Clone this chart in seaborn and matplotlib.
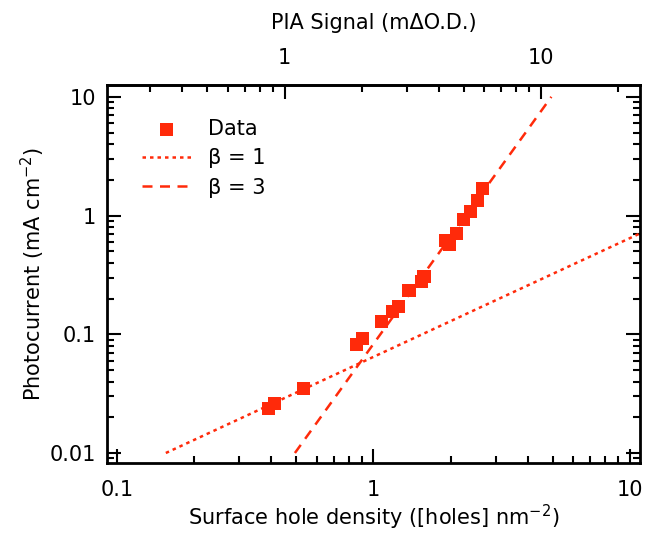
import seaborn as sns
import matplotlib.pyplot as plt
from matplotlib.ticker import FuncFormatter, FixedLocator, LogLocator, NullFormatter

# surface hole density (holes nm^-2) vs photocurrent (mA cm^-2)
density = [0.389, 0.410, 0.532, 0.860, 0.908, 1.076, 1.188, 1.249, 1.375,
           1.541, 1.574, 1.917, 1.975, 2.11, 2.24, 2.39, 2.55, 2.67]
current = [0.0238, 0.0263, 0.0347, 0.0814, 0.0927, 0.128, 0.155, 0.171, 0.232,
           0.278, 0.306, 0.612, 0.572, 0.711, 0.92, 1.08, 1.34, 1.70]

# power-law guide lines (end points)
beta1_x = [0.155, 11.5]
beta1_y = [0.01, 0.742]
beta3_x = [0.494, 4.94]
beta3_y = [0.01, 10.0]

# PIA signal = density / scale
pia_scale = 0.45
pia_ticks = [1, 10]

red = "#ff2a0a"

sns.set_style("ticks")
plt.rcParams["font.family"] = ["DejaVu Sans"]
plt.rcParams["text.color"] = "black"
plt.rcParams["axes.labelcolor"] = "black"

fig = plt.figure(figsize=(6.47, 5.34), dpi=100)
ax = fig.add_axes([0.1654, 0.133, 0.8236, 0.708])

sns.lineplot(x=beta1_x, y=beta1_y, ax=ax, color=red, lw=1.8,
             dashes=False, label="β = 1")
sns.lineplot(x=beta3_x, y=beta3_y, ax=ax, color=red, lw=1.8,
             dashes=False, label="β = 3")
ax.lines[0].set_dashes((1.4, 1.6))
ax.lines[1].set_dashes((4, 3))
sns.scatterplot(x=density, y=current, ax=ax, color=red, marker="s", s=90,
                edgecolor="none", label="Data", zorder=5)

ax.set_xscale("log")
ax.set_yscale("log")
ax.set_xlim(0.0914, 10.94)
ax.set_ylim(0.00824, 12.6)

fmt = FuncFormatter(lambda v, p: "{:g}".format(v))
ax.xaxis.set_major_formatter(fmt)
ax.yaxis.set_major_formatter(fmt)
ax.xaxis.set_minor_formatter(NullFormatter())
ax.yaxis.set_minor_formatter(NullFormatter())

ax.tick_params(which="both", direction="in", top=False, right=True,
               width=1.5, labelsize=15, colors="black")
ax.tick_params(which="major", length=10, pad=8)
ax.tick_params(axis="x", which="major", pad=12)
ax.tick_params(which="minor", length=5)
for sp in ax.spines.values():
    sp.set_linewidth(2)
    sp.set_color("black")

ax.set_xlabel("Surface hole density ([holes] nm$^{-2}$)", fontsize=15,
              labelpad=2)
ax.set_ylabel("Photocurrent (mA cm$^{-2}$)", fontsize=15, labelpad=2)

top = ax.secondary_xaxis("top", functions=(lambda x: x / pia_scale,
                                          lambda p: p * pia_scale))
top.xaxis.set_major_locator(FixedLocator(pia_ticks))
top.xaxis.set_minor_locator(LogLocator(base=10, subs=range(2, 10)))
top.xaxis.set_major_formatter(fmt)
top.xaxis.set_minor_formatter(NullFormatter())
top.tick_params(which="both", direction="in", width=1.5, labelsize=15,
                colors="black")
top.tick_params(which="major", length=10, pad=12)
top.tick_params(which="minor", length=5)
top.spines["top"].set_linewidth(2)
top.set_xlabel("PIA Signal (mΔO.D.)", fontsize=15, labelpad=14)

h, l = ax.get_legend_handles_labels()
order = [l.index("Data"), l.index("β = 1"), l.index("β = 3")]
ax.legend([h[i] for i in order], [l[i] for i in order], frameon=False,
          fontsize=15, loc="upper left", bbox_to_anchor=(0.03, 0.96),
          handlelength=2.4, labelspacing=0.45)

fig.savefig("out.png", dpi=100)
